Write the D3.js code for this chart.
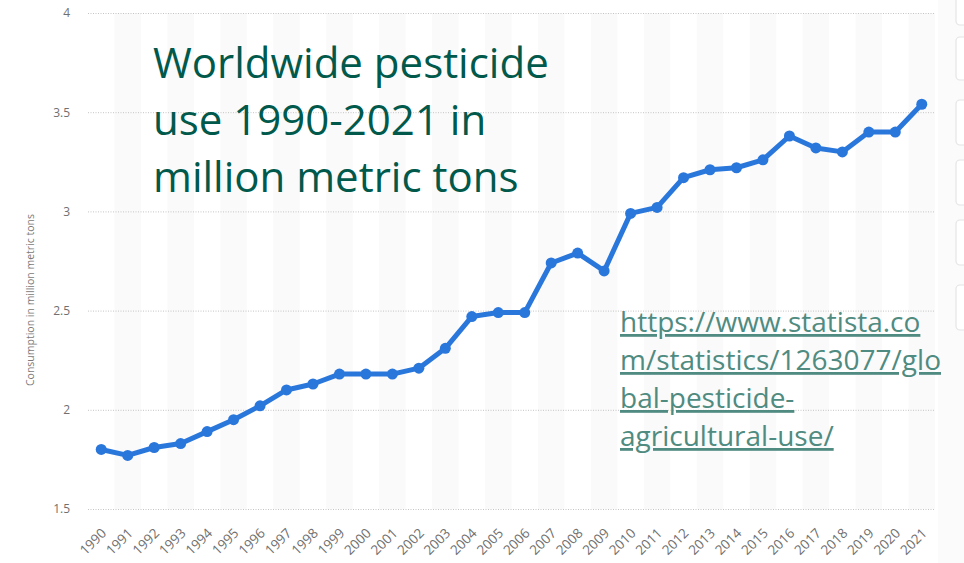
<!DOCTYPE html>
<html>
<head>
<meta charset="utf-8">
<script src="https://cdn.jsdelivr.net/npm/d3@7"></script>
<style>
  html, body { margin: 0; padding: 0; background: #ffffff; }
  svg { display: block; }
</style>
</head>
<body>
<svg id="chart" width="964" height="563"></svg>
<script>
// Worldwide pesticide consumption, million metric tons
const years = ["1990","1991","1992","1993","1994","1995","1996","1997","1998","1999",
               "2000","2001","2002","2003","2004","2005","2006","2007","2008","2009",
               "2010","2011","2012","2013","2014","2015","2016","2017","2018","2019",
               "2020","2021"];
const consumption = [1.80, 1.77, 1.81, 1.83, 1.89, 1.95, 2.02, 2.10, 2.13, 2.18,
                     2.18, 2.18, 2.21, 2.31, 2.47, 2.49, 2.49, 2.74, 2.79, 2.70,
                     2.99, 3.02, 3.17, 3.21, 3.22, 3.26, 3.38, 3.32, 3.30, 3.40,
                     3.40, 3.54];
const yTicks = [1.5, 2, 2.5, 3, 3.5, 4];
const yAxisTitle = "Consumption in million metric tons";
const titleLines = ["Worldwide pesticide", "use 1990-2021 in", "million metric tons"];
const linkLines = ["https://www.statista.co", "m/statistics/1263077/glo", "bal-pesticide-", "agricultural-use/"];

const svg = d3.select("#chart");
const plotLeft = 88, plotRight = 935, plotTop = 13, plotBottom = 509;

const x = d3.scaleBand().domain(years).range([plotLeft, plotRight]).padding(0);
const y = d3.scaleLinear().domain([1.5, 4]).range([plotBottom, plotTop]);
const cx = d => x(d) + x.bandwidth() / 2;

// alternating column shading
svg.append("g").selectAll("rect")
  .data(years.filter((d, i) => i % 2 === 1))
  .join("rect")
  .attr("x", d => x(d))
  .attr("y", plotTop)
  .attr("width", x.bandwidth())
  .attr("height", plotBottom - plotTop)
  .attr("fill", "#fafafb");

// horizontal grid + y tick labels
const yAxis = d3.axisLeft(y).tickValues(yTicks).tickSize(-(plotRight - plotLeft)).tickPadding(18)
  .tickFormat(d => String(d));
const gy = svg.append("g").attr("transform", `translate(${plotLeft},0)`).call(yAxis);
gy.select(".domain").remove();
gy.selectAll(".tick line")
  .attr("stroke", "#c4c4c4")
  .attr("stroke-width", 1)
  .attr("stroke-dasharray", "1,1.5");
gy.selectAll(".tick text")
  .attr("fill", "#707070")
  .style("font-family", "'Open Sans', 'DejaVu Sans', sans-serif")
  .style("font-size", "12px");

// y axis title
svg.append("text")
  .attr("transform", `translate(34,300) rotate(-90)`)
  .attr("text-anchor", "middle")
  .attr("fill", "#7a7a7a")
  .style("font-family", "'Open Sans', 'DejaVu Sans', sans-serif")
  .style("font-size", "10.5px")
  .text(yAxisTitle);

// x tick labels, rotated
const xAxis = d3.axisBottom(x).tickSize(0).tickPadding(0);
const gx = svg.append("g").attr("transform", `translate(0,${plotBottom})`).call(xAxis);
gx.select(".domain").remove();
gx.selectAll(".tick text")
  .attr("text-anchor", "end")
  .attr("dy", null)
  .attr("y", 0)
  .attr("transform", "translate(6,25) rotate(-45)")
  .attr("fill", "#6f6f6f")
  .style("font-family", "'Open Sans', 'DejaVu Sans', sans-serif")
  .style("font-size", "13.5px");

// data line
const line = d3.line()
  .x((d, i) => cx(years[i]))
  .y(d => y(d));
svg.append("path")
  .datum(consumption)
  .attr("d", line)
  .attr("fill", "none")
  .attr("stroke", "#2a77dc")
  .attr("stroke-width", 5)
  .attr("stroke-linejoin", "round");
svg.append("g").selectAll("circle")
  .data(consumption)
  .join("circle")
  .attr("cx", (d, i) => cx(years[i]))
  .attr("cy", d => y(d))
  .attr("r", 5.5)
  .attr("fill", "#2a77dc");

// sidebar cards at the right edge
const cards = [[-10, 25], [37, 80], [100, 145], [160, 205], [220, 265], [285, 330]];
const side = svg.append("g");
side.append("rect")
  .attr("x", 938).attr("y", 0).attr("width", 26).attr("height", 563)
  .attr("fill", "#fbfbfc");
side.selectAll(".card")
  .data(cards)
  .join("rect")
  .attr("class", "card")
  .attr("x", 956).attr("y", d => d[0])
  .attr("width", 20).attr("height", d => d[1] - d[0])
  .attr("rx", 4)
  .attr("fill", "#ffffff")
  .attr("stroke", "#e4e4e6")
  .attr("stroke-width", 1.2);

// title block
const title = svg.append("text")
  .attr("fill", "#00594b")
  .style("font-family", "'Open Sans', 'Noto Sans', sans-serif")
  .style("font-size", "42px");
titleLines.forEach((t, i) => {
  title.append("tspan").attr("x", 153).attr("y", 78 + i * 57).text(t);
});

// source link
const link = svg.append("text")
  .attr("fill", "#4f8b80")
  .attr("text-decoration", "underline")
  .style("font-family", "'Open Sans', 'Noto Sans', sans-serif")
  .style("font-size", "28px");
linkLines.forEach((t, i) => {
  link.append("tspan").attr("x", 620).attr("y", 332 + i * 38).text(t);
});
</script>
</body>
</html>
